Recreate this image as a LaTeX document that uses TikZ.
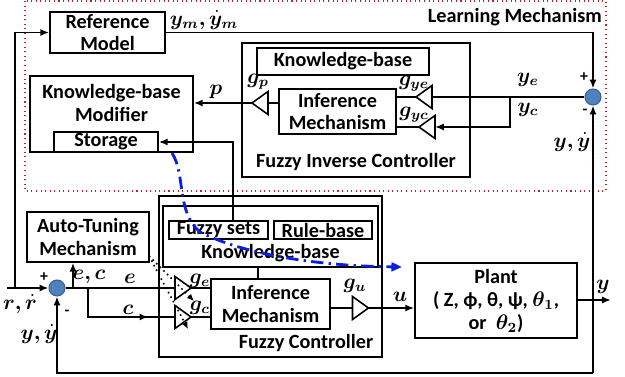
\documentclass[tikz,border=0pt]{standalone}
\usepackage{amsmath}
\usepackage{bm}
\usepackage{fontspec}
\setmainfont{Carlito}
\usetikzlibrary{arrows.meta,decorations.markings,calc}
\definecolor{sumfill}{RGB}{79,129,189}
\definecolor{sumdraw}{RGB}{56,93,138}
\definecolor{redbox}{RGB}{200,30,30}
\definecolor{bluecurve}{RGB}{10,30,230}
\newcommand\mybox[7][]{\node[box,#1,minimum width={(#5-#3)*0.02cm},minimum height={(#6-#4)*0.02cm}] (#2) at ({(#3+#5)/2},{(#4+#6)/2}) {#7};}
% gain triangle: name, x, y, direction (1 = points right, -1 = points left)
\newcommand\gaintri[4]{%
  \coordinate (#1) at (#2,#3);
  \coordinate (#1-in) at ({#2-8*#4},#3);
  \coordinate (#1-out) at ({#2+8*#4},#3);
  \draw[triline] ({#2-8*#4},{#3-11.5}) -- (#1-out) -- ({#2-8*#4},{#3+11.5}) -- cycle;}
\begin{document}
\begin{tikzpicture}[x=0.02cm,y=-0.02cm,
  font=\bfseries\fontsize{11.5}{13}\selectfont,
  box/.style={draw,line width=0.9pt,inner sep=0pt,align=center},
  ln/.style={line width=1.1pt},
  arr/.style={ln,-{Latex[length=5pt,width=4pt]}},
  triline/.style={line width=0.9pt,line join=miter},
  sumpt/.style={circle,fill=sumfill,draw=sumdraw,line width=0.6pt,minimum size=0.32cm,inner sep=0pt},
  lbl/.style={inner sep=1pt},
  mlbl/.style={inner sep=1pt,font=\fontsize{11.5}{12}\selectfont},
  sgn/.style={inner sep=0pt,font=\bfseries\fontsize{9}{10}\selectfont},
  dotarr/.style={line width=0.9pt,dotted,-{Latex[length=4pt,width=3.5pt]}},
  bluearr/.style={draw=bluecurve,line width=1.6pt,dash pattern=on 7pt off 3pt on 1.3pt off 3pt,-{Triangle[length=6pt,width=5pt,fill=bluecurve]}}
]
\useasboundingbox (0,0) rectangle (625,377);
% learning mechanism region
\draw[draw=redbox,dotted,line width=0.6pt] (25,1) rectangle (606,191);
\node[lbl,anchor=east] (lmtext) at (604,17) {Learning Mechanism};
% top boxes
\mybox{refmodel}{50}{12}{165}{53}{Reference\\Model}
\mybox{kbm}{30}{76}{193}{152}{}
\node[lbl,align=center] (kbmtext) at (111.5,103) {Knowledge-base\\Modifier};
\mybox{storage}{54}{132}{158}{152}{Storage}
\mybox{fic}{242}{43}{470}{177}{}
\mybox{fickb}{257}{48}{429}{75}{Knowledge-base}
\mybox{ficim}{279}{89}{396}{134}{Inference\\Mechanism}
\node[lbl] (fictext) at (356,162) {Fuzzy Inverse Controller};
\gaintri{gp}{260}{103}{-1}
\gaintri{gye}{424}{97}{-1}
\gaintri{gyc}{427}{127}{-1}
\node[sumpt] (sum2) at (593,97) {};
% bottom boxes
\mybox{autotune}{27}{212}{149}{262}{Auto-Tuning\\Mechanism}
\node[sumpt] (sum1) at (57,288) {};
\mybox[line width=1.1pt]{fc}{159}{196}{382}{357}{}
\mybox{fckb}{163}{206}{378}{267}{}
\mybox{fsets}{169}{221}{268}{239}{Fuzzy sets}
\mybox{rbase}{274}{221}{372}{239}{Rule-base}
\node[lbl] (fckbtext) at (270.5,253) {Knowledge-base};
\mybox{fcim}{211}{279}{330}{329}{Inference\\Mechanism}
\node[lbl] (fctext) at (306,343) {Fuzzy Controller};
\gaintri{ge}{183}{288}{1}
\gaintri{gc}{183}{317}{1}
\gaintri{gu}{360.5}{308}{1}
\mybox{plant}{415}{263}{577}{338}{}
\node[lbl,align=center] (planttext) at (496,301) {Plant\\( Z, \char"03D5, \char"03B8, \char"03C8, $\bm{\theta_1}$,\\or\ \ $\bm{\theta_2}$)};
% coordinates
\coordinate (rin) at (7,288);
\coordinate (rbr) at (15,288);
\coordinate (ecbr) at (73,288);
\coordinate (cbr) at (88,288);
\coordinate (yebr) at (510,97);
\coordinate (yout) at (611,300);
\coordinate (fbbr) at (593,373);
\coordinate (fsout) at (233,221);
\coordinate (atout) at (149,256);
\coordinate (geend) at (194,301);
\coordinate (gcend) at (188,329);
\coordinate (bstart) at (172,153);
\coordinate (bend) at (402,267);
% connectors
\draw[arr] (rin) -- (sum1);
\draw[arr] (rbr) |- (refmodel.west);
\draw[arr] (refmodel.east) -| (sum2.north);
\draw[ln] (sum2.west) -- (gye-in);
\draw[arr] (yebr) |- (gyc-in);
\draw[ln] (gye-out) -- (gye-out -| ficim.east);
\draw[ln] (gyc-out) -- (gyc-out -| ficim.east);
\draw[ln] (gp-in -| ficim.west) -- (gp-in);
\draw[arr] (gp-out) -- (gp-out -| kbm.east);
\draw[arr] (fsout) |- (storage.east);
\draw[ln] (fckb.south -| 258,0) -- (fcim.north -| 258,0);
\draw[ln] (sum1.east) -- (ge-in);
\draw[arr] (ecbr) -- (ecbr |- autotune.south);
\draw[ln,postaction={decorate,decoration={markings,mark=at position 0.77 with {\arrow{Latex[length=5pt,width=4pt]}}}}] (cbr) |- (gc-in);
\draw[ln] (ge-out) -- (ge-out -| fcim.west);
\draw[ln] (gc-out) -- (gc-out -| fcim.west);
\draw[ln] (gu-in -| fcim.east) -- (gu-in);
\draw[arr] (gu-out) -- (gu-out -| plant.west);
\draw[arr] (yout -| plant.east) -- (yout);
\draw[arr] (fbbr) -- (sum2.south);
\draw[arr] (fbbr) -| (sum1.south);
\draw[dotarr] (atout) -- (geend);
\draw[dotarr] (atout) -- (gcend);
\draw[bluearr] (bstart) .. controls (186,175) and (176,212) .. (200,232) .. controls (245,255) and (320,266) .. (bend);
% labels
\node[mlbl] (lym) at (204,20) {$\bm{y_m{,}\,\dot y_m}$};
\node[mlbl] (lye) at (528,80) {$\bm{y_e}$};
\node[mlbl] (lyc) at (528,110) {$\bm{y_c}$};
\node[sgn] (p2) at (584,77) {+};
\node[sgn] (m2) at (585,112) {-};
\node[mlbl] (lyy2) at (572,142) {$\bm{y{,}\,\dot y}$};
\node[mlbl] (lgp) at (258,82) {$\bm{g_p}$};
\node[mlbl] (lgye) at (414,84) {$\bm{g_{ye}}$};
\node[mlbl] (lgyc) at (414,115) {$\bm{g_{yc}}$};
\node[mlbl] (lp) at (216,92) {$\bm{p}$};
\node[mlbl] (lec) at (89,277) {$\bm{e{,}\,c}$};
\node[mlbl] (le) at (130,279) {$\bm{e}$};
\node[mlbl] (lc) at (128,310) {$\bm{c}$};
\node[sgn] (p1) at (44,277) {+};
\node[sgn] (m1) at (67,313) {-};
\node[mlbl] (lr) at (20,304) {$\bm{r{,}\,\dot r}$};
\node[mlbl] (lyy1) at (39,334) {$\bm{y{,}\,\dot y}$};
\node[mlbl] (lge) at (200,281) {$\bm{g_e}$};
\node[mlbl] (lgc) at (200,308) {$\bm{g_c}$};
\node[mlbl] (lgu) at (355,286) {$\bm{g_u}$};
\node[mlbl] (lu) at (400,297) {$\bm{u}$};
\node[mlbl] (ly) at (603,287) {$\bm{y}$};
\end{tikzpicture}
\end{document}
